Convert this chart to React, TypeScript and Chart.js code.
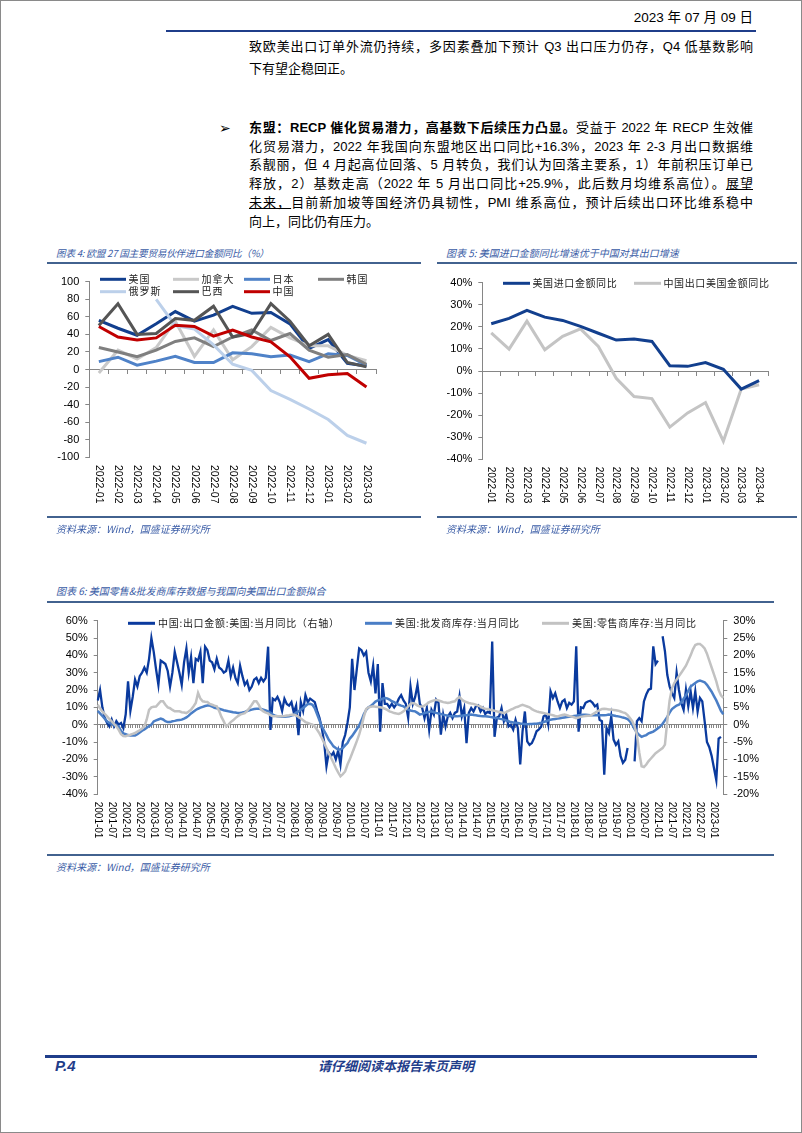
import React, { useEffect, useRef } from "react";
import { Chart, registerables } from "chart.js";

Chart.register(...registerables);

const LATIN = '"Liberation Sans", "Noto Sans CJK SC", sans-serif';
const CJK = '"Noto Sans CJK SC", "Liberation Sans", sans-serif';
Chart.defaults.font.family = LATIN;

// ---------------- 图表4 ----------------
const categories4 = ["2022-01", "2022-02", "2022-03", "2022-04", "2022-05", "2022-06", "2022-07", "2022-08", "2022-09", "2022-10", "2022-11", "2022-12", "2023-01", "2023-02", "2023-03"];
const names4 = ["美国", "加拿大", "日本", "韩国", "俄罗斯", "巴西", "中国"];
const usa4 = [56, 47, 39, 52, 66, 55, 62, 72, 64, 65, 52, 24, 34, 7, 4];
const canada4 = [-4, 22, 12, 25, 55, 15, 45, 11, 26, 48, 36, 27, 27, 16, 10];
const japan4 = [9, 14, 5, 9.5, 15, 8, 8, 19, 18, 14.5, 16.5, 9, 18, 16, 5];
const korea4 = [25, 20, 14.5, 22, 32, 36, 26, 37, 45, 33, 41, 22, 14, 17, 6];
const russia4 = [null, null, null, 80, 50, 46, 28, 6, -1, -24, -34, -45, -57, -75, -84];
const brazil4 = [50, 75, 40, 41, 58, 56, 72, 37, 41, 75, 55, 27, 40, 8, 3];
const china4 = [49, 37, 33.5, 36, 50.5, 49, 38, 45, 37, 31.5, 14.5, -10, -6, -4.6, -20];

// ---------------- 图表5 ----------------
const categories5 = ["2022-01", "2022-02", "2022-03", "2022-04", "2022-05", "2022-06", "2022-07", "2022-08", "2022-09", "2022-10", "2022-11", "2022-12", "2023-01", "2023-02", "2023-03", "2023-04"];
const names5 = ["美国进口金额同比", "中国出口美国金额同比"];
const usImport5 = [21.4, 23.8, 27.5, 24.4, 22.9, 20.2, 17.1, 14.0, 14.5, 13.4, 2.4, 2.1, 3.8, 0.8, -8.2, -4.4];
const cnExport5 = [17.3, 9.9, 22.6, 9.6, 15.7, 19.1, 11.1, -3.3, -11.6, -12.5, -25.4, -19, -14.3, -31.8, -8.2, -6.2];

// ---------------- 图表6 ----------------
const months6: string[] = [];
for (let y = 2001; y <= 2023; y++) {
  for (let m = 1; m <= 12; m++) {
    if (y === 2023 && m > 5) break;
    months6.push(`${y}-${String(m).padStart(2, "0")}`);
  }
}
const tickLabels6 = months6.filter((_, i) => i % 6 === 0);
const names6 = ["中国:出口金额:美国:当月同比（右轴）", "美国:批发商库存:当月同比", "美国:零售商库存:当月同比"];
// 中国:出口金额:美国:当月同比 (右轴, %)
const cnExport6 = [
  7, 10, 5, 2, 0.5, -0.5, 1.5, -0.5, 1, 0, 0.5, -1, // 2001
  3, 12.5, 4, 8, 13, 11, 14, 15, 16.5, 15, 19, 25, // 2002
  21, 16, 11.5, 18.5, 18, 17.5, 15.5, 11, 15, 21, 18, 15, // 2003
  11.5, 18, 22, 15, 19.5, 12, 19, 18.5, 21, 12, 22.5, 21.5, // 2004
  18.5, 18, 16, 19, 16.5, 16, 15, 15.5, 18.5, 14, 16.5, 13.5, // 2005
  12, 17, 14, 11.5, 12.5, 10, 11, 13, 13.5, 12, 13.5, 12.5, // 2006
  13.5, 22.5, -1.5, 7.5, 7, 8, 6.5, 4, 7.5, 6, 5.5, 6.5, // 2007
  3.5, 5.5, -3, 6.5, 4, 8.5, 6.5, 7.5, 7, 6.5, 4, 2, // 2008
  -1, -5, -12, -8, -9, -8, -10, -7.5, -11.5, -5, -3, 0.5, // 2009
  5, 19, 10, 16, 22, 21.5, 20, 21, 15, 12.5, 17, 9, // 2010
  17.5, -2, 12, 6, 6, 5, 6, 5, 6, 7.5, 8.5, 7, // 2011
  6, 2, 11, 6, 8, 11.5, 6, 4.8, 1.9, 4.8, -1.4, 4.3, // 2012
  2.9, 7.2, 6.3, -2.9, 2.9, -0.5, 2.4, 3.4, 1.9, 3.4, 3.8, 8.2, // 2013
  2.4, 4.8, -5.3, 3.4, 4.8, 3.8, 5.3, 5.6, 3.8, 4.8, 3.1, 3.7, // 2014
  3.4, 24, -3.5, 2, 2.4, 4.8, 1, 2.9, -0.5, 0, -1.4, 1.4, // 2015
  -1, -11.5, -1.9, 3.8, -4.8, -5.8, -5.3, -3.8, -1.9, -1.4, -0.5, 2.4, // 2016
  2.9, 0, 9.6, 7.7, 9.1, 6.7, 4.8, 6.7, 7.2, 4.8, 6.3, 5.8, // 2017
  6.7, 22.6, -2, 5, 4.8, 6.3, 6.7, 6.9, 6.3, 5.3, 5.8, 1.4, // 2018
  1, -14.4, -1, -2.4, 2.4, -4.3, -5.8, -4.8, -9.1, -11, -10.1, -6.7, // 2019
  null, null, -10.6, 1, 1.9, 1, 6.7, 8.7, 10.1, 10.4, 22.6, 17.5, // 2020
  18.5, null, 25.5, 21.2, 14.4, 11, 9.1, 7.7, 15, 10, 6.3, 4.3, // 2021
  10.1, 5.3, 9.6, 4.8, 9.6, 3.8, 7.7, 6.7, 1, -5, -6.5, -9, // 2022
  -12.5, -16, -4, -3.5, null, // 2023
];
// 美国:批发商库存:当月同比 (%)
const wholesale6 = [
  8, 6.5, 5, 3.5, 2, 1, 0.5, -0.5, -0.5, -1, -3.5, -5, // 2001
  -5.5, -6, -6.2, -6.3, -6.3, -5.5, -4.5, -3.5, -2.8, -1.8, -0.8, 0, // 2002
  1.9, 2.5, 3, 3.5, 3, 2, 1.5, 1.5, 2, 2.2, 2.5, 2.7, // 2003
  2.9, 3.5, 4.2, 5.2, 6.5, 7.5, 8.5, 9.2, 9.8, 10.3, 10.8, 11, // 2004
  11, 10.5, 9.8, 9.5, 9.2, 8.8, 8.3, 8, 7.7, 7.5, 7.2, 7, // 2005
  6.8, 6.8, 7, 7.4, 7.9, 8.3, 8.7, 9, 9.2, 9.2, 9, 8.7, // 2006
  8.2, 7.7, 6.8, 5.8, 5.2, 4.9, 4.7, 4.6, 4.6, 4.7, 4.8, 5.2, // 2007
  5.8, 6.8, 7.7, 8.6, 9.6, 10.8, 11.9, 12, 11.5, 9.5, 6, 2.5, // 2008
  -1, -3.5, -6, -8.7, -10.5, -12.5, -13.5, -14.4, -14.2, -13.5, -12, -10.6, // 2009
  -8, -6.5, -4.5, -2.5, -0.5, 2.5, 6, 8.5, 10, 10.8, 12, 13.3, // 2010
  14, 14.4, 15, 15.4, 15.2, 14.5, 13.5, 13, 12.2, 11.5, 11, 10.6, // 2011
  9.5, 8.7, 8.2, 7.9, 7.7, 6.8, 5.8, 6.2, 6.7, 7, 7.4, 7.7, // 2012
  7.2, 6.8, 6.5, 6.2, 5.8, 5.5, 5.2, 4.8, 4.8, 4.8, 4.8, 5, // 2013
  5.2, 5.4, 5.5, 5.7, 5.8, 5.6, 5.4, 5.2, 5, 4.9, 4.8, 4.7, // 2014
  4.5, 4.3, 4, 3.8, 3.5, 3.2, 2.9, 2.4, 2, 1.5, 1.3, 1.1, // 2015
  1, 0.7, 0.5, 0.4, 0.3, 0.4, 0.4, 0.5, 0.6, 0.8, 1.1, 1.5, // 2016
  2, 2.5, 2.9, 3.1, 3.3, 3.5, 3.7, 4, 4.2, 4.4, 4.6, 4.8, // 2017
  5, 5.2, 5.4, 5.6, 5.8, 5.8, 5.6, 5.4, 5.4, 5.4, 5.4, 5.4, // 2018
  5.4, 5.5, 5.6, 5.8, 5.6, 5.3, 5, 4.8, 4.5, 4.1, 3.8, 3.2, // 2019
  2, 0, -2.5, -4.5, -6, -7, -6.5, -6, -5, -4.5, -4, -3, // 2020
  -2, -1, 0.5, 2.5, 4.5, 7, 9, 10, 11, 11.5, 13, 15, // 2021
  17, 19.5, 22, 23, 24, 25, 25.5, 25, 24.5, 23, 21, 19, // 2022
  16.5, 14, 11, 8, 6, // 2023
];
// 美国:零售商库存:当月同比 (%)
const retail6 = [
  11.5, 9.5, 7.7, 6.2, 4.8, 3.3, 1.9, 0.5, -1, -3, -5.5, -6.5, // 2001
  -6.7, -6.2, -5.8, -5.3, -4.8, -4, -3.2, -2.2, -1, 3, 8.5, 10, // 2002
  10.3, 10.5, 12, 13.5, 13.5, 11.5, 10, 9.5, 8.5, 7.7, 7.7, 7.7, // 2003
  7.2, 7, 6.7, 7.6, 8.7, 10.5, 12.5, 18.3, 15, 13.5, 13.2, 13.1, // 2004
  12, 11.5, 11, 10.6, 8, 4.5, 1.9, -1, 0, 1.5, 2.5, 3.8, // 2005
  4.8, 5.8, 6.2, 6.7, 8, 9.6, 11.5, 13.5, 13.5, 11.5, 8.7, 7.7, // 2006
  7, 6.5, 5.5, 4.8, 4.8, 4.8, 4.8, 4.8, 5, 5.3, 5.5, 5.8, // 2007
  5.8, 5.3, 4.5, 3.5, 2.5, 1.5, 1, 0.5, 0, -1, -2.9, -5, // 2008
  -7.7, -10.5, -13.5, -16.5, -19.2, -22, -25, -27.5, -29.8, -28.5, -27, -23, // 2009
  -20, -16.5, -13, -9.5, -5.8, -1, 4.5, 9, 10, 10.3, 10.6, 10.4, // 2010
  10.2, 10, 9.8, 9.2, 8.5, 7.7, 7.2, 6.7, 6.4, 6.2, 6.8, 7.7, // 2011
  9, 10.5, 12, 12.5, 12, 11, 10.5, 10.5, 11, 12, 13, 13.5, // 2012
  14, 14.4, 14, 13.5, 13, 12.8, 12.5, 12.8, 13.2, 13.5, 15, 16, // 2013
  14.5, 13.5, 13, 12.5, 12.2, 12, 11.5, 11, 10.5, 9.6, 9.2, 9, // 2014
  8.7, 8.3, 8, 7.7, 7.3, 7, 6.7, 7.3, 8, 8.7, 9.3, 10, // 2015
  10.3, 11, 11.5, 11, 10.5, 10, 9, 8.3, 7.7, 7.3, 7, 6.7, // 2016
  6.4, 6, 5.8, 5.4, 5, 4.8, 5.2, 5.6, 5.8, 5.4, 5, 4.8, // 2017
  4.3, 3.8, 4.1, 4.5, 4.8, 5, 5.1, 5.2, 6, 6.8, 7.7, 8.4, // 2018
  9, 9.2, 9, 8.8, 8.7, 8.5, 8.3, 8.1, 7.6, 7.1, 6.7, 5.5, // 2019
  3.8, 2, -1, -6, -16, -24, -24.5, -23, -21, -19.5, -18, -16.5, // 2020
  -15.5, -14.5, -13.5, -11.5, 2, 14, 21, 24, 26, 28, 30, 32, // 2021
  34, 37, 40, 43.5, 46, 46.5, 46.5, 45.5, 44, 41, 37, 33, // 2022
  29, 25, 20, 17, 15.5, // 2023
];

// ---------------- helpers ----------------
const AXIS = "#868686";

function xLabelPlugin(labels: string[], font: string, gap: number) {
  return {
    id: "xLabels",
    afterDraw(chart: any) {
      const { ctx, chartArea } = chart;
      const xs = chart.scales.x;
      const cats = chart.data.labels as string[];
      ctx.save();
      ctx.font = font;
      ctx.fillStyle = "#000";
      ctx.textAlign = "left";
      ctx.textBaseline = "middle";
      for (const lab of labels) {
        const x = xs.getPixelForValue(cats.indexOf(lab));
        ctx.save();
        ctx.translate(x, chartArea.bottom + gap);
        ctx.rotate(Math.PI / 2);
        ctx.fillText(lab, 0, 0);
        ctx.restore();
      }
      ctx.restore();
    },
  };
}

type LegendItem = { ds: number; x: number; y: number };
function legendPlugin(items: LegendItem[], swatch: number, lineWidth: number, font: string, gap: number, spacing: number) {
  return {
    id: "gridLegend",
    afterDatasetsDraw(chart: any) {
      const ctx = chart.ctx;
      ctx.save();
      ctx.font = font;
      ctx.textAlign = "left";
      ctx.textBaseline = "middle";
      if ("letterSpacing" in ctx) (ctx as any).letterSpacing = `${spacing}px`;
      for (const it of items) {
        const ds = chart.data.datasets[it.ds];
        ctx.strokeStyle = ds.borderColor;
        ctx.lineWidth = lineWidth;
        ctx.lineCap = "butt";
        ctx.beginPath();
        ctx.moveTo(it.x, it.y);
        ctx.lineTo(it.x + swatch, it.y);
        ctx.stroke();
        ctx.fillStyle = "#222";
        ctx.fillText(ds.label, it.x + swatch + gap, it.y);
      }
      ctx.restore();
    },
  };
}

function line(label: string, data: (number | null)[], color: string, width: number, order: number, yAxisID = "y") {
  return {
    label,
    data,
    borderColor: color,
    backgroundColor: color,
    borderWidth: width,
    pointRadius: 0,
    tension: 0,
    spanGaps: false,
    order,
    xAxisID: "x",
    yAxisID,
  };
}

function yAxis(min: number, max: number, step: number, width: number, pct: boolean, position = "left", font = 11) {
  return {
    position,
    min,
    max,
    ticks: {
      stepSize: step,
      color: "#000",
      padding: 6,
      font: { size: font },
      callback: (v: any) => (pct ? `${v}%` : `${v}`),
    },
    grid: { drawOnChartArea: false, tickLength: 4, color: AXIS },
    border: { display: true, color: AXIS, width: 1 },
    afterFit: (s: any) => {
      s.width = width;
    },
  };
}

function zeroAxis(offset: boolean, tick: number) {
  return {
    type: "category",
    axis: "x",
    position: { y: 0 },
    offset,
    grid: { offset, drawOnChartArea: false, tickLength: tick, color: AXIS },
    border: { display: true, color: AXIS, width: 1 },
    ticks: { display: false },
  };
}

function makeChart4(): any {
  const colors = ["#123f8e", "#c9c9c9", "#4f82c8", "#7f7f7f", "#bcd0ea", "#555555", "#c00000"];
  const series = [usa4, canada4, japan4, korea4, russia4, brazil4, china4];
  return {
    type: "line",
    data: {
      labels: categories4,
      datasets: series.map((d, i) => line(names4[i], d, colors[i], 3, -i)),
    },
    options: {
      animation: false,
      responsive: false,
      devicePixelRatio: 1,
      events: [],
      layout: { padding: { left: 0, right: 54, top: 13.7, bottom: 65.7 } },
      plugins: { legend: { display: false }, tooltip: { enabled: false } },
      scales: {
        x: { type: "category", offset: true, display: false },
        x2: zeroAxis(true, 4),
        y: yAxis(-100, 100, 20, 49.3, false),
      },
    },
    plugins: [
      xLabelPlugin(categories4, `10.5px ${LATIN}`, 7.7),
      legendPlugin(
        [
          { ds: 0, x: 60, y: 11.3 },
          { ds: 1, x: 133, y: 11.3 },
          { ds: 2, x: 204, y: 11.3 },
          { ds: 3, x: 278, y: 11.3 },
          { ds: 4, x: 60, y: 23.7 },
          { ds: 5, x: 133, y: 23.7 },
          { ds: 6, x: 204, y: 23.7 },
        ],
        26,
        3,
        `10px ${CJK}`,
        2.5,
        1
      ),
    ],
  };
}

function makeChart5(): any {
  return {
    type: "line",
    data: {
      labels: categories5,
      datasets: [
        line(names5[0], usImport5, "#123f8e", 3, 0),
        line(names5[1], cnExport5, "#c4c4c4", 3, 1),
      ],
    },
    options: {
      animation: false,
      responsive: false,
      devicePixelRatio: 1,
      events: [],
      layout: { padding: { left: 0, right: 34, top: 14.7, bottom: 63.7 } },
      plugins: { legend: { display: false }, tooltip: { enabled: false } },
      scales: {
        x: { type: "category", offset: true, display: false },
        x2: zeroAxis(true, 4),
        y: yAxis(-40, 40, 10, 52.3, true),
      },
    },
    plugins: [
      xLabelPlugin(categories5, `10px ${LATIN}`, 7.4),
      legendPlugin(
        [
          { ds: 0, x: 73, y: 15.3 },
          { ds: 1, x: 204, y: 15.3 },
        ],
        27,
        3,
        `10px ${CJK}`,
        2.5,
        0.6
      ),
    ],
  };
}

function makeChart6(): any {
  return {
    type: "line",
    data: {
      labels: months6,
      datasets: [
        line(names6[0], cnExport6, "#0a3a9e", 2.3, 2, "y2"),
        line(names6[1], wholesale6, "#4a7ec6", 2.5, 1),
        line(names6[2], retail6, "#c2c2c2", 2.5, 0),
      ],
    },
    options: {
      animation: false,
      responsive: false,
      devicePixelRatio: 1,
      events: [],
      layout: { padding: { left: 0, right: 0, top: 14.7, bottom: 62 } },
      plugins: { legend: { display: false }, tooltip: { enabled: false } },
      scales: {
        x: { type: "category", offset: false, display: false },
        x2: zeroAxis(false, 3),
        y: yAxis(-40, 60, 10, 57.7, true),
        y2: yAxis(-20, 30, 5, 76.7, true, "right"),
      },
    },
    plugins: [
      xLabelPlugin(tickLabels6, `10px ${LATIN}`, 7.7),
      legendPlugin(
        [
          { ds: 0, x: 88, y: 17.3 },
          { ds: 1, x: 325, y: 17.3 },
          { ds: 2, x: 502, y: 17.3 },
        ],
        27,
        3,
        `10px ${CJK}`,
        3,
        0.7
      ),
    ],
  };
}

function ChartBox(props: { left: number; top: number; width: number; height: number; make: () => any }) {
  const ref = useRef<HTMLCanvasElement>(null);
  useEffect(() => {
    const chart = new Chart(ref.current as HTMLCanvasElement, props.make());
    return () => chart.destroy();
  }, []);
  return (
    <canvas
      ref={ref}
      width={props.width}
      height={props.height}
      style={{ position: "absolute", left: props.left, top: props.top, width: props.width, height: props.height }}
    />
  );
}

const abs = (left: number, top: number, extra: React.CSSProperties = {}): React.CSSProperties => ({
  position: "absolute",
  left,
  top,
  whiteSpace: "pre",
  ...extra,
});

function Rule(p: { left: number; top: number; width: number; h: number; color: string }) {
  return <div style={{ position: "absolute", left: p.left, top: p.top, width: p.width, height: p.h, background: p.color }} />;
}

const bodyStyle: React.CSSProperties = {
  fontFamily: LATIN,
  fontSize: 13,
  lineHeight: "20px",
  height: 20,
  color: "#000",
  width: 504,
  whiteSpace: "nowrap",
};
const justify: React.CSSProperties = { textAlign: "justify", textAlignLast: "justify" } as any;

function BodyLine(p: { y: number; full?: boolean; children: React.ReactNode }) {
  return <div style={{ ...abs(249, p.y - 10), ...bodyStyle, ...(p.full ? justify : {}) }}>{p.children}</div>;
}

const captionStyle: React.CSSProperties = {
  fontFamily: CJK,
  fontSize: 10,
  fontStyle: "italic",
  color: "#3a5ca6",
  lineHeight: "14px",
};

const TITLE_LINE = "#42628f";
const DARK = "#1f3d8a";

export default function App() {
  return (
    <div style={{ position: "absolute", left: 0, top: 0, width: 802, height: 1133, background: "#fff", overflow: "hidden" }}>
      {/* header */}
      <div style={{ position: "absolute", right: 49, top: 8, fontFamily: LATIN, fontSize: 13.5, lineHeight: "20px", color: "#000", whiteSpace: "pre" }}>
        2023 年 07 月 09 日
      </div>
      <Rule left={166} top={29.5} width={590} h={2} color={DARK} />

      {/* body text */}
      <BodyLine y={47}>
        <span style={{ ...justify, display: "inline-block", width: 504 }}>致欧美出口订单外流仍持续，多因素叠加下预计 Q3 出口压力仍存，Q4 低基数影响</span>
      </BodyLine>
      <BodyLine y={69}>下有望企稳回正。</BodyLine>
      <div style={{ ...abs(219, 116.7), fontFamily: '"DejaVu Sans", sans-serif', fontSize: 14, lineHeight: "22px" }}>➢</div>
      <BodyLine y={127.7} full>
        <b>东盟：RECP 催化贸易潜力，高基数下后续压力凸显。</b>受益于 2022 年 RECP 生效催
      </BodyLine>
      <BodyLine y={146.5} full>化贸易潜力，2022 年我国向东盟地区出口同比+16.3%，2023 年 2-3 月出口数据维</BodyLine>
      <BodyLine y={165.3} full>系靓丽，但 4 月起高位回落、5 月转负，我们认为回落主要系，1）年前积压订单已</BodyLine>
      <BodyLine y={184.1} full>
        释放，2）基数走高（2022 年 5 月出口同比+25.9%，此后数月均维系高位）。<span style={{ textDecoration: "underline" }}>展望</span>
      </BodyLine>
      <BodyLine y={202.9} full>
        <span style={{ textDecoration: "underline" }}>未来，</span>目前新加坡等国经济仍具韧性，PMI 维系高位，预计后续出口环比维系稳中
      </BodyLine>
      <BodyLine y={221.7}>向上，同比仍有压力。</BodyLine>

      {/* chart 4 */}
      <div style={{ ...abs(56, 245.7), ...captionStyle, fontSize: 9.6, letterSpacing: -0.2 }}>图表 4: 欧盟 27 国主要贸易伙伴进口金额同比（%）</div>
      <Rule left={47} top={262} width={374} h={2} color={TITLE_LINE} />
      <ChartBox left={40} top={268} width={390} height={255} make={makeChart4} />
      <Rule left={47} top={516} width={374} h={2} color={TITLE_LINE} />
      <div style={{ ...abs(56, 522.3), ...captionStyle }}>资料来源：Wind，国盛证券研究所</div>

      {/* chart 5 */}
      <div style={{ ...abs(446, 245.7), ...captionStyle }}>图表 5: 美国进口金额同比增速优于中国对其出口增速</div>
      <Rule left={437} top={262} width={360} h={2} color={TITLE_LINE} />
      <ChartBox left={430} top={268} width={372} height={255} make={makeChart5} />
      <Rule left={437} top={516} width={360} h={2} color={TITLE_LINE} />
      <div style={{ ...abs(446, 522.3), ...captionStyle }}>资料来源：Wind，国盛证券研究所</div>

      {/* chart 6 */}
      <div style={{ ...abs(56, 583.7), ...captionStyle }}>图表 6: 美国零售&批发商库存数据与我国向美国出口金额拟合</div>
      <Rule left={47} top={601.3} width={727} h={2} color={TITLE_LINE} />
      <ChartBox left={40} top={606} width={760} height={250} make={makeChart6} />
      <Rule left={47} top={854} width={727} h={2} color={TITLE_LINE} />
      <div style={{ ...abs(56, 859.7), ...captionStyle }}>资料来源：Wind，国盛证券研究所</div>

      {/* footer */}
      <Rule left={45} top={1054.5} width={712} h={3} color={DARK} />
      <div style={{ ...abs(55, 1057), fontFamily: LATIN, fontSize: 15, fontWeight: "bold", fontStyle: "italic", color: DARK, lineHeight: "18px" }}>P.4</div>
      <div style={{ ...abs(318, 1057), fontFamily: CJK, fontSize: 13, fontWeight: "bold", fontStyle: "italic", color: DARK, lineHeight: "18px" }}>请仔细阅读本报告末页声明</div>

      {/* page border */}
      <div style={{ position: "absolute", left: 0, top: 0, width: 802, height: 1133, boxSizing: "border-box", border: "1px solid #8a8a8a", pointerEvents: "none" }} />
    </div>
  );
}
